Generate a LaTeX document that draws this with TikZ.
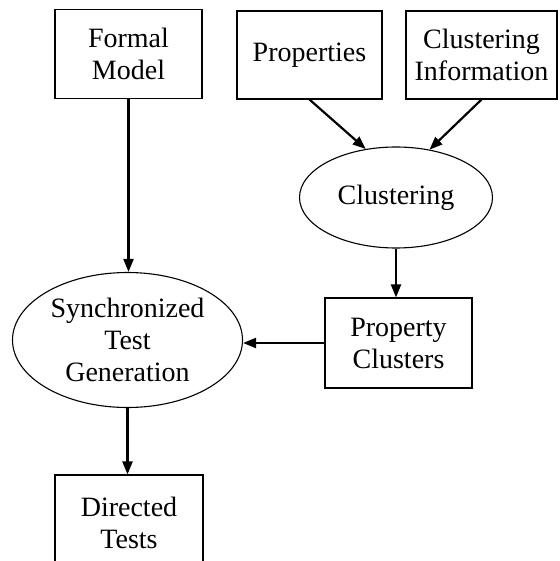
\documentclass[tikz,border=0pt]{standalone}
\usepackage{fontspec}
\setmainfont{Liberation Serif}
\usetikzlibrary{arrows.meta,shapes.geometric}
\tikzset{
  base/.style={draw, line width=1.1pt, align=center, inner sep=0pt,
    font=\fontsize{28}{32}\selectfont},
  block/.style={base, rectangle},
  proc/.style={base, ellipse},
  flow/.style={line width=2.2pt, -{Triangle[length=13pt,width=10pt]}}
}
\begin{document}
\begin{tikzpicture}[x=1pt, y=-1pt]
  \useasboundingbox (0,0) rectangle (559,561);
  \clip (0,0) rectangle (559,561);
  % inputs
  \node[block, minimum width=147pt, minimum height=89pt] (fm) at (128.5,54) {Formal\\Model};
  \node[block, minimum width=145pt, minimum height=88pt] (prop) at (309.5,55) {Properties};
  \node[block, minimum width=151pt, minimum height=88pt] (ci) at (481.5,55) {Clustering\\Information};
  % processing
  \node[proc, minimum width=193pt, minimum height=101pt] (clu) at (396,197.5) {Clustering};
  \node[block, minimum width=147pt, minimum height=90pt] (pc) at (398.5,343) {Property\\Clusters};
  \node[proc, minimum width=230pt, minimum height=135pt] (stg) at (127.5,340) {Synchronized\\Test\\Generation};
  % output
  \node[block, minimum width=148pt, minimum height=96pt] (dt) at (129,523) {Directed\\Tests};
  % connectors
  \draw[flow] (prop.south) -- (clu.122);
  \draw[flow] (ci.south) -- (clu.55);
  \draw[flow] (clu.south) -- (clu.south |- pc.north);
  \draw[flow] (pc.west) -- (pc.west -| stg.east);
  \draw[flow] (fm.south) -- (fm.south |- stg.north);
  \draw[flow] (stg.south) -- (stg.south |- dt.north);
\end{tikzpicture}
\end{document}
